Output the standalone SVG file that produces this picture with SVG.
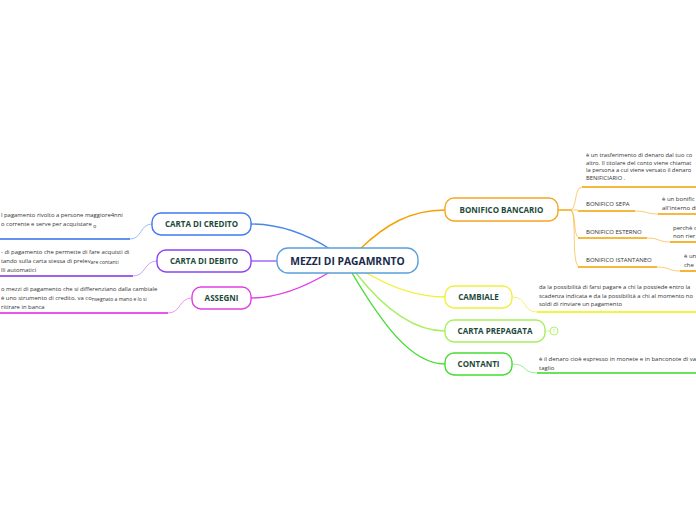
<svg xmlns="http://www.w3.org/2000/svg" width="696" height="520" viewBox="0 0 696 520">
<style>
.node{fill:#fff;stroke-width:1.4}
.lbl{font-family:"Open Sans","DejaVu Sans",sans-serif;font-weight:bold;font-size:8px;fill:#1d4a3c;text-anchor:middle}
.txt{font-family:"Open Sans","DejaVu Sans",sans-serif;font-size:6px;fill:#333}
.ltxt{font-family:"Open Sans","DejaVu Sans",sans-serif;font-size:5.9px;fill:#333}
.c{fill:none;stroke-width:1.4}
.u{fill:none;stroke-width:1.6}
.t{fill:none;stroke-width:0.9;opacity:0.6}
</style>
<rect width="696" height="520" fill="#fff"/>
<g id="connectors">
<path class="c" stroke="#4a86e8" d="M330,249 C300,230 275,224 251,224"/>
<path class="c" stroke="#9d5cf5" d="M277,261 L251,261"/>
<path class="c" stroke="#e23ce6" d="M330,272 C300,290 275,298 251,298"/>
<path class="c" stroke="#f5a000" d="M360,249 C385,225 410,210 445,210"/>
<path class="c" stroke="#f2f230" d="M365,272 C395,290 420,297 445,297"/>
<path class="c" stroke="#a6f060" d="M356,273 C385,310 415,331 445,331"/>
<path class="c" stroke="#44dd33" d="M352,273 C380,320 410,364 445,364"/>
<path class="t" stroke="#4a86e8" d="M130,239 C142,239 140,224 152,224"/>
<path class="u" stroke="#2f6ee8" d="M0,239 L130,239"/>
<path class="t" stroke="#9d5cf5" d="M133,276 C146,276 144,261 157,261"/>
<path class="u" stroke="#7b2fe0" d="M0,276 L133,276"/>
<path class="t" stroke="#e23ce6" d="M168,313 C181,313 179,298 192,298"/>
<path class="u" stroke="#e020e0" d="M0,313 L168,313"/>
<path class="c" stroke="#f5a000" d="M558,210 L570,210"/>
<path class="t" stroke="#f5a000" d="M570,210 C577,210 574,187 582,187"/>
<path class="t" stroke="#f5a000" d="M570,210 L578,210"/>
<path class="t" stroke="#f5a000" d="M570,210 C577,210 572,238 580,238"/>
<path class="t" stroke="#f5a000" d="M570,210 C578,210 570,267 580,267"/>
<path class="u" stroke="#f5a000" d="M582,187 L696,187"/>
<path class="u" stroke="#f5a000" d="M578,211 L635,211"/>
<path class="u" stroke="#f5a000" d="M578,238 L647,238"/>
<path class="u" stroke="#f5a000" d="M578,267 L657,267"/>
<path class="t" stroke="#f5a000" d="M635,211 C648,211 646,214 658,214"/>
<path class="u" stroke="#f5a000" d="M658,214 L696,214"/>
<path class="t" stroke="#f5a000" d="M647,238 C660,238 658,242 670,242"/>
<path class="u" stroke="#f5a000" d="M670,242 L696,242"/>
<path class="t" stroke="#f5a000" d="M657,267 C670,267 668,271 680,271"/>
<path class="u" stroke="#f5a000" d="M680,271 L696,271"/>
<path class="t" stroke="#e6e600" d="M512,297 C528,297 522,312 537,312"/>
<path class="u" stroke="#f0f000" d="M537,312 L696,312"/>
<path class="t" stroke="#a6f060" d="M545,331 L550,331"/>
<path class="t" stroke="#44dd33" d="M512,364 C528,364 522,373 537,373"/>
<path class="u" stroke="#33dd22" d="M537,373 L696,373"/>
</g>
<g id="n-center"><rect class="node" x="277" y="248" width="141" height="25" rx="11" stroke="#5aa0dc"/><text x="347.5" y="264.5" class="lbl" style="font-size:10.3px;fill:#1a2a4a">MEZZI DI PAGAMRNTO</text></g>
<g id="n-credito"><rect class="node" x="152" y="213" width="99" height="22" rx="9" stroke="#3f78f5"/><text x="201.5" y="227" class="lbl">CARTA DI CREDITO</text></g>
<g id="n-debito"><rect class="node" x="157" y="250" width="94" height="22" rx="9" stroke="#8b45f0"/><text x="204" y="264" class="lbl">CARTA DI DEBITO</text></g>
<g id="n-assegni"><rect class="node" x="192" y="287" width="59" height="22" rx="9" stroke="#e040e0"/><text x="221.5" y="301" class="lbl">ASSEGNI</text></g>
<g id="n-bonifico"><rect class="node" x="445" y="198" width="113" height="23" rx="9" stroke="#f5a623"/><text x="501.5" y="213" class="lbl">BONIFICO BANCARIO</text></g>
<g id="n-cambiale"><rect class="node" x="445" y="286" width="67" height="22" rx="9" stroke="#f0f040"/><text x="478.5" y="300" class="lbl">CAMBIALE</text></g>
<g id="n-prepagata"><rect class="node" x="445" y="320" width="100" height="22" rx="9" stroke="#a6f060"/><text x="495" y="334" class="lbl">CARTA PREPAGATA</text>
<circle cx="554" cy="331" r="4" fill="#fff" stroke="#a6f060" stroke-width="0.9"/><text x="554" y="333" style="font-family:'Open Sans',sans-serif;font-size:5px;fill:#a6f060;text-anchor:middle">1</text></g>
<g id="n-contanti"><rect class="node" x="445" y="353" width="67" height="22" rx="9" stroke="#44dd33"/><text x="478.5" y="367" class="lbl">CONTANTI</text></g>
<g id="t-credito" class="ltxt">
<text x="1" y="217">l pagamento rivolto a persone maggiore4nni</text>
<text x="1" y="226">o corrente e serve per acquistare <tspan font-size="5px" dy="1.5">o</tspan></text>
</g>
<g id="t-debito" class="ltxt">
<text x="1" y="254">- di pagamento che permette di fare acquisti di</text>
<text x="1" y="263">tando sulla carta stessa  di prelev<tspan font-size="5px" dy="0.8">are contanti</tspan></text>
<text x="1" y="271.5">lli automatici</text>
</g>
<g id="t-assegni" class="ltxt">
<text x="1" y="291">o mezzi di pagamento che si differenziano dalla cambiale</text>
<text x="1" y="300">è uno strumento di credito, va co<tspan font-size="5px" dy="0.8">nsegnato a mano e lo si</tspan></text>
<text x="1" y="308.5">ritirare in banca</text>
</g>
<g id="t-bonifico" class="txt" style="font-size:5.8px">
<text x="586" y="157">è un trasferimento di denaro dal tuo co</text>
<text x="586" y="164.5">altro. Il titolare del conto viene chiamat</text>
<text x="586" y="172">la persona a cui viene versato il denaro</text>
<text x="586" y="180">BENIFICIARIO .</text>
</g>
<g id="n-sepa"><text x="586" y="206" class="txt">BONIFICO SEPA</text>
<text x="662" y="201" class="txt">è un bonific</text><text x="662" y="210" class="txt">all'interno di</text></g>
<g id="n-esterno"><text x="586" y="234" class="txt">BONIFICO ESTERNO</text>
<text x="673" y="230" class="txt">perchè c</text><text x="673" y="238" class="txt">non rier</text></g>
<g id="n-istantaneo"><text x="586" y="262" class="txt">BONIFICO ISTANTANEO</text>
<text x="684" y="258" class="txt">è un</text><text x="684" y="267" class="txt">che</text></g>
<g id="t-cambiale" class="txt" style="font-size:5.85px">
<text x="539" y="289">da la possibilità di farsi pagare a chi la possiede entro la</text>
<text x="539" y="297.5">scadenza indicata e da la possibilità a chi al momento no</text>
<text x="539" y="306">soldi di rinviare un pagamento</text>
</g>
<g id="t-contanti" class="txt">
<text x="539" y="361">è il denaro cioè espresso in monete e in banconote di va</text>
<text x="539" y="369.5">taglio</text>
</g>
</svg>
